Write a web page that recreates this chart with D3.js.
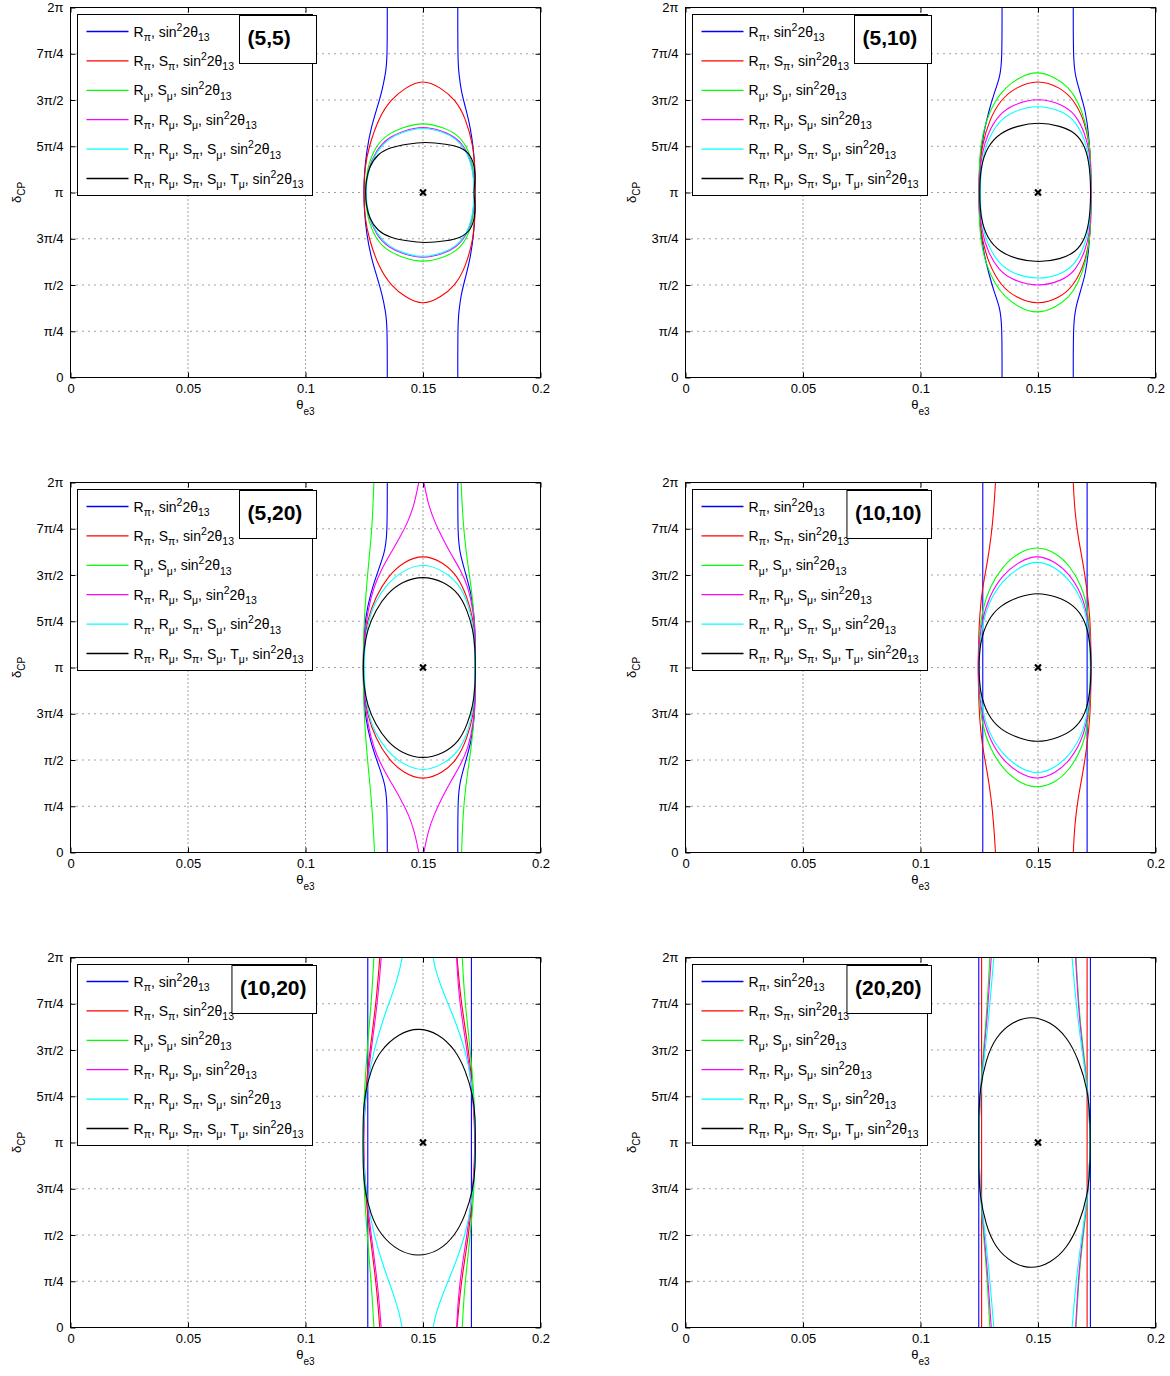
<!DOCTYPE html>
<html>
<head>
<meta charset="utf-8">
<script src="https://cdn.jsdelivr.net/npm/d3@7"></script>
<style>
  body { margin: 0; background: #fff; }
  text { font-family: "Liberation Sans", Arial, Helvetica, sans-serif; }
</style>
</head>
<body>
<svg id="chart" width="1170" height="1376"></svg>
<script>
// ---- axes ----
const thetaTicks = [0, 0.05, 0.1, 0.15, 0.2];
const thetaTickLabels = ["0", "0.05", "0.1", "0.15", "0.2"];
// delta_CP in units of pi
const deltaTicks = [0, 0.25, 0.5, 0.75, 1, 1.25, 1.5, 1.75, 2];
const deltaTickLabels = ["0", "π/4", "π/2", "3π/4", "π", "5π/4", "3π/2", "7π/4", "2π"];

// ---- panels ----
const panelTitles = ["(5,5)", "(5,10)", "(5,20)", "(10,10)", "(10,20)", "(20,20)"];
const bestFit = [0.15, 1];   // [theta_e3, delta_CP / pi]

// ---- legend: observables combined with sin^2 2theta_13 ----
const legendTerms = [
  [["R", "π"]],
  [["R", "π"], ["S", "π"]],
  [["R", "μ"], ["S", "μ"]],
  [["R", "π"], ["R", "μ"], ["S", "μ"]],
  [["R", "π"], ["R", "μ"], ["S", "π"], ["S", "μ"]],
  [["R", "π"], ["R", "μ"], ["S", "π"], ["S", "μ"], ["T", "μ"]]
];

// ---- contours ----
// Each contour is a list of rows [delta/pi, theta_left, theta_right], from 2pi down to 0.
// A row whose two thetas coincide is the top / bottom apex of a closed contour;
// otherwise the two columns are the left and right branches of an open band.
// Series order in each panel follows the legend.
const contours_5_5 = [
  [[2.0,.1348,.1648],[1.712,.1348,.1648],[1.640,.1340,.1653],[1.550,.1326,.1662],[1.459,.1305,.1681],[1.351,.1279,.1702],[1.225,.1260,.1716],[1.099,.1250,.1722],[1.0,.1248,.1723],[0.901,.1250,.1722],[0.775,.1260,.1716],[0.649,.1279,.1702],[0.541,.1305,.1681],[0.450,.1326,.1662],[0.360,.1340,.1653],[0.288,.1348,.1648],[0.0,.1348,.1648]],
  [[1.612,.1499,.1499],[1.568,.1426,.1575],[1.501,.1362,.1638],[1.405,.1312,.1681],[1.250,.1270,.1714],[1.135,.1252,.1721],[1.0,.1248,.1723],[0.865,.1252,.1721],[0.750,.1270,.1714],[0.595,.1312,.1681],[0.499,.1362,.1638],[0.432,.1426,.1575],[0.390,.1499,.1499]],
  [[1.381,.1499,.1499],[1.351,.1411,.1589],[1.315,.1348,.1645],[1.250,.1298,.1688],[1.135,.1262,.1716],[1.0,.1251,.1722],[0.865,.1262,.1716],[0.750,.1298,.1688],[0.685,.1348,.1645],[0.649,.1411,.1589],[0.619,.1499,.1499]],
  [[1.360,.1499,.1499],[1.333,.1415,.1585],[1.297,.1352,.1642],[1.232,.1302,.1686],[1.125,.1265,.1714],[1.0,.1253,.1721],[0.875,.1265,.1714],[0.768,.1302,.1686],[0.703,.1352,.1642],[0.667,.1415,.1585],[0.642,.1499,.1499]],
  [[1.355,.1499,.1499],[1.328,.1416,.1584],[1.292,.1354,.1641],[1.228,.1304,.1685],[1.122,.1266,.1713],[1.0,.1254,.1720],[0.878,.1266,.1713],[0.772,.1304,.1685],[0.708,.1354,.1641],[0.672,.1416,.1584],[0.646,.1499,.1499]],
  [[1.274,.1505,.1505],[1.262,.1433,.1603],[1.245,.1362,.1660],[1.207,.1305,.1702],[1.135,.1270,.1721],[1.063,.1258,.1722],[1.0,.1255,.1715],[0.937,.1258,.1722],[0.865,.1270,.1721],[0.793,.1305,.1702],[0.755,.1362,.1660],[0.738,.1433,.1603],[0.726,.1505,.1505]]
];

const contours_5_10 = [
  [[2.0,.1347,.1650],[1.712,.1347,.1650],[1.622,.1338,.1660],[1.532,.1312,.1681],[1.441,.1291,.1702],[1.315,.1267,.1716],[1.171,.1251,.1723],[1.0,.1248,.1726],[0.829,.1251,.1723],[0.685,.1267,.1716],[0.559,.1291,.1702],[0.468,.1312,.1681],[0.378,.1338,.1660],[0.288,.1347,.1650],[0.0,.1347,.1650]],
  [[1.612,.1499,.1499],[1.568,.1404,.1596],[1.501,.1340,.1653],[1.387,.1291,.1698],[1.250,.1261,.1721],[1.135,.1251,.1725],[1.0,.1248,.1726],[0.865,.1251,.1725],[0.750,.1261,.1721],[0.613,.1291,.1698],[0.499,.1340,.1653],[0.432,.1404,.1596],[0.390,.1499,.1499]],
  [[1.659,.1494,.1494],[1.622,.1419,.1575],[1.568,.1362,.1631],[1.501,.1319,.1667],[1.387,.1277,.1702],[1.250,.1255,.1721],[1.135,.1250,.1725],[1.0,.1248,.1726],[0.865,.1250,.1725],[0.750,.1255,.1721],[0.613,.1277,.1702],[0.499,.1319,.1667],[0.432,.1362,.1631],[0.378,.1419,.1575],[0.343,.1494,.1494]],
  [[1.513,.1499,.1499],[1.477,.1397,.1603],[1.423,.1333,.1660],[1.315,.1284,.1702],[1.207,.1261,.1721],[1.099,.1251,.1725],[1.0,.1250,.1726],[0.901,.1251,.1725],[0.793,.1261,.1721],[0.685,.1284,.1702],[0.577,.1333,.1660],[0.523,.1397,.1603],[0.489,.1499,.1499]],
  [[1.475,.1499,.1499],[1.441,.1397,.1603],[1.387,.1333,.1660],[1.279,.1284,.1702],[1.171,.1261,.1721],[1.0,.1251,.1725],[0.829,.1261,.1721],[0.721,.1284,.1702],[0.613,.1333,.1660],[0.559,.1397,.1603],[0.527,.1499,.1499]],
  [[1.381,.1501,.1501],[1.360,.1411,.1596],[1.324,.1340,.1660],[1.250,.1284,.1702],[1.135,.1255,.1721],[1.0,.1251,.1725],[0.865,.1255,.1721],[0.750,.1284,.1702],[0.676,.1340,.1660],[0.640,.1411,.1596],[0.620,.1501,.1501]]
];

const contours_5_20 = [
  [[2.0,.1348,.1648],[1.708,.1348,.1648],[1.617,.1336,.1657],[1.509,.1305,.1681],[1.401,.1277,.1705],[1.274,.1255,.1719],[1.130,.1247,.1723],[1.0,.1245,.1723],[0.870,.1247,.1723],[0.726,.1255,.1719],[0.599,.1277,.1705],[0.491,.1305,.1681],[0.383,.1336,.1657],[0.292,.1348,.1648],[0.0,.1348,.1648]],
  [[1.611,.1499,.1499],[1.572,.1418,.1582],[1.500,.1355,.1645],[1.383,.1298,.1688],[1.251,.1262,.1716],[1.130,.1248,.1722],[1.0,.1245,.1723],[0.870,.1248,.1722],[0.749,.1262,.1716],[0.617,.1298,.1688],[0.500,.1355,.1645],[0.428,.1418,.1582],[0.389,.1499,.1499]],
  [[2.0,.1291,.1662],[1.762,.1284,.1671],[1.581,.1270,.1688],[1.401,.1257,.1709],[1.220,.1248,.1721],[1.0,.1245,.1723],[0.780,.1248,.1721],[0.599,.1257,.1709],[0.419,.1270,.1688],[0.238,.1284,.1671],[0.0,.1294,.1664]],
  [[2.0,.1482,.1504],[1.888,.1464,.1521],[1.798,.1440,.1546],[1.708,.1404,.1579],[1.617,.1362,.1617],[1.527,.1322,.1660],[1.437,.1291,.1692],[1.310,.1265,.1714],[1.166,.1251,.1722],[1.0,.1245,.1723],[0.834,.1251,.1722],[0.690,.1265,.1714],[0.563,.1291,.1692],[0.473,.1322,.1660],[0.383,.1362,.1617],[0.292,.1404,.1579],[0.202,.1440,.1546],[0.112,.1464,.1521],[0.0,.1482,.1504]],
  [[1.563,.1499,.1499],[1.527,.1418,.1582],[1.455,.1348,.1653],[1.347,.1291,.1692],[1.220,.1260,.1716],[1.0,.1245,.1723],[0.780,.1260,.1716],[0.653,.1291,.1692],[0.545,.1348,.1653],[0.473,.1418,.1582],[0.437,.1499,.1499]],
  [[1.497,.1499,.1499],[1.464,.1411,.1589],[1.401,.1348,.1653],[1.310,.1298,.1688],[1.202,.1262,.1714],[1.094,.1248,.1722],[1.0,.1245,.1723],[0.906,.1248,.1722],[0.798,.1262,.1714],[0.690,.1298,.1688],[0.599,.1348,.1653],[0.536,.1411,.1589],[0.503,.1499,.1499]]
];

const contours_10_10 = [
  [[2.0,.1265,.1709],[1.0,.1265,.1709],[0.0,.1265,.1709]],
  [[2.0,.1319,.1650],[1.852,.1312,.1656],[1.708,.1301,.1670],[1.563,.1284,.1692],[1.419,.1262,.1709],[1.274,.1251,.1721],[1.130,.1247,.1725],[1.0,.1245,.1726],[0.870,.1247,.1725],[0.726,.1251,.1721],[0.581,.1262,.1709],[0.437,.1284,.1692],[0.292,.1301,.1670],[0.148,.1312,.1656],[0.0,.1319,.1650]],
  [[1.660,.1494,.1494],[1.617,.1411,.1582],[1.545,.1348,.1638],[1.437,.1295,.1688],[1.310,.1262,.1712],[1.166,.1250,.1723],[1.0,.1245,.1726],[0.834,.1250,.1723],[0.690,.1262,.1712],[0.563,.1295,.1688],[0.455,.1348,.1638],[0.383,.1411,.1582],[0.342,.1494,.1494]],
  [[1.611,.1494,.1494],[1.572,.1419,.1575],[1.500,.1348,.1638],[1.383,.1291,.1692],[1.238,.1258,.1716],[1.094,.1248,.1725],[1.0,.1245,.1726],[0.906,.1248,.1725],[0.762,.1258,.1716],[0.617,.1291,.1692],[0.500,.1348,.1638],[0.428,.1419,.1575],[0.390,.1494,.1494]],
  [[1.581,.1494,.1494],[1.542,.1419,.1575],[1.469,.1348,.1638],[1.356,.1291,.1692],[1.211,.1258,.1716],[1.0,.1247,.1726],[0.789,.1258,.1716],[0.644,.1291,.1692],[0.531,.1348,.1638],[0.458,.1419,.1575],[0.419,.1494,.1494]],
  [[1.407,.1496,.1496],[1.383,.1419,.1582],[1.338,.1340,.1653],[1.256,.1284,.1702],[1.130,.1252,.1723],[1.0,.1248,.1726],[0.870,.1252,.1723],[0.744,.1284,.1702],[0.662,.1340,.1653],[0.617,.1419,.1582],[0.593,.1496,.1496]]
];

const contours_10_20 = [
  [[2.0,.1265,.1706],[1.0,.1265,.1706],[0.0,.1265,.1706]],
  [[2.0,.1316,.1645],[1.769,.1302,.1660],[1.499,.1274,.1695],[1.229,.1251,.1716],[1.0,.1245,.1723],[0.771,.1251,.1716],[0.501,.1274,.1695],[0.231,.1302,.1660],[0.0,.1316,.1645]],
  [[2.0,.1291,.1667],[1.769,.1281,.1677],[1.499,.1262,.1702],[1.229,.1248,.1719],[1.0,.1245,.1723],[0.771,.1248,.1719],[0.501,.1262,.1702],[0.231,.1281,.1677],[0.0,.1291,.1667]],
  [[2.0,.1322,.1643],[1.769,.1308,.1653],[1.499,.1279,.1688],[1.229,.1254,.1714],[1.0,.1245,.1723],[0.771,.1254,.1714],[0.501,.1279,.1688],[0.231,.1308,.1653],[0.0,.1322,.1643]],
  [[2.0,.1411,.1543],[1.932,.1401,.1553],[1.823,.1376,.1582],[1.679,.1333,.1631],[1.499,.1291,.1681],[1.319,.1262,.1709],[1.139,.1248,.1721],[1.0,.1245,.1723],[0.861,.1248,.1721],[0.681,.1262,.1709],[0.501,.1291,.1681],[0.321,.1333,.1631],[0.177,.1376,.1582],[0.068,.1401,.1553],[0.0,.1411,.1543]],
  [[1.623,.1479,.1479],[1.589,.1397,.1567],[1.501,.1319,.1638],[1.391,.1277,.1681],[1.250,.1251,.1714],[1.139,.1245,.1722],[1.0,.1245,.1723],[0.861,.1245,.1722],[0.750,.1251,.1714],[0.609,.1277,.1681],[0.499,.1319,.1638],[0.411,.1397,.1567],[0.382,.1479,.1479]]
];

const contours_20_20 = [
  [[2.0,.1248,.1723],[1.0,.1248,.1723],[0.0,.1248,.1723]],
  [[2.0,.1260,.1709],[1.0,.1260,.1709],[0.0,.1260,.1709]],
  [[2.0,.1295,.1662],[1.679,.1281,.1676],[1.409,.1262,.1702],[1.229,.1252,.1716],[1.0,.1248,.1723],[0.771,.1252,.1716],[0.591,.1262,.1702],[0.321,.1281,.1676],[0.0,.1295,.1662]],
  [[2.0,.1301,.1660],[1.679,.1284,.1674],[1.409,.1265,.1699],[1.229,.1252,.1716],[1.0,.1248,.1723],[0.771,.1252,.1716],[0.591,.1265,.1699],[0.321,.1284,.1674],[0.0,.1301,.1660]],
  [[2.0,.1312,.1645],[1.679,.1291,.1667],[1.409,.1267,.1698],[1.229,.1252,.1716],[1.0,.1248,.1723],[0.771,.1252,.1716],[0.591,.1267,.1698],[0.321,.1291,.1667],[0.0,.1312,.1645]],
  [[1.686,.1471,.1471],[1.652,.1390,.1553],[1.571,.1319,.1624],[1.445,.1277,.1674],[1.283,.1252,.1712],[1.139,.1248,.1721],[1.0,.1248,.1723],[0.861,.1248,.1721],[0.717,.1252,.1712],[0.555,.1277,.1674],[0.429,.1319,.1624],[0.348,.1390,.1553],[0.314,.1471,.1471]]
];

const panelContours = [contours_5_5, contours_5_10, contours_5_20, contours_10_10, contours_10_20, contours_20_20];

// ---- drawing ----
const seriesColors = ["#0000ff", "#ff0000", "#00ff00", "#ff00ff", "#00ffff", "#000000"];
const svg = d3.select("#chart");
const W = 470, H = 370;
const colLeft = [70, 685];
const rowTop = [7, 482, 957];

const x = d3.scaleLinear().domain([0, 0.2]).range([0, W]);
const y = d3.scaleLinear().domain([0, 2]).range([H, 0]);

// smooth spline through the sampled contour rows
const openLine = d3.line().x(d => x(d[0])).y(d => y(d[1])).curve(d3.curveBasis);
const closedLine = d3.line().x(d => x(d[0])).y(d => y(d[1])).curve(d3.curveBasisClosed);

function contourPaths(rows) {
  const first = rows[0], last = rows[rows.length - 1];
  if (first[1] === first[2] && last[1] === last[2]) {
    const mid = rows.slice(1, -1);
    const pts = [[first[1], first[0]]]
      .concat(mid.map(r => [r[2], r[0]]))
      .concat([[last[1], last[0]]])
      .concat(mid.slice().reverse().map(r => [r[1], r[0]]));
    return [closedLine(pts)];
  }
  return [openLine(rows.map(r => [r[1], r[0]])), openLine(rows.map(r => [r[2], r[0]]))];
}

function writeLegendLabel(textSel, terms) {
  const plain = (t, dy) => textSel.append("tspan").attr("dy", dy || 0).attr("font-size", 14).text(t);
  const small = (t, dy) => textSel.append("tspan").attr("dy", dy).attr("font-size", 10.5).text(t);
  terms.forEach(([base, sub]) => {
    plain(base);
    small(sub, 4.5);
    plain(", ", -4.5);
  });
  plain("sin");
  small("2", -6);
  plain("2θ", 6);
  small("13", 4.5);
}

panelContours.forEach((curves, i) => {
  const col = i % 2, row = Math.floor(i / 2);
  const g = svg.append("g").attr("transform", `translate(${colLeft[col] + 0.5},${rowTop[row] + 0.5})`);

  // dotted grid
  const grid = g.append("g");
  grid.selectAll("line.gx").data(thetaTicks.slice(1, -1)).join("line")
    .attr("x1", d => x(d)).attr("x2", d => x(d)).attr("y1", 0).attr("y2", H)
    .attr("stroke", "#444").attr("stroke-width", 1).attr("stroke-dasharray", "1,3");
  grid.selectAll("line.gy").data(deltaTicks.slice(1, -1)).join("line")
    .attr("x1", 0).attr("x2", W).attr("y1", d => y(d)).attr("y2", d => y(d))
    .attr("stroke", "#444").attr("stroke-width", 1).attr("stroke-dasharray", "1,5");

  // axes with inward ticks on all four sides
  const ax = (gen, tr) => {
    const a = g.append("g").attr("transform", tr).call(gen);
    a.select(".domain").remove();
    a.selectAll("line").attr("stroke", "#000");
    a.selectAll("text").attr("font-size", 13).attr("font-family", "Liberation Sans, Arial, sans-serif").attr("fill", "#000");
    return a;
  };
  ax(d3.axisBottom(x).tickValues(thetaTicks).tickFormat((d, k) => thetaTickLabels[k]).tickSizeInner(-5).tickSizeOuter(0).tickPadding(6), `translate(0,${H})`);
  ax(d3.axisTop(x).tickValues(thetaTicks).tickFormat("").tickSizeInner(-5).tickSizeOuter(0), "translate(0,0)");
  ax(d3.axisLeft(y).tickValues(deltaTicks).tickFormat((d, k) => deltaTickLabels[k]).tickSizeInner(-5).tickSizeOuter(0).tickPadding(7), "translate(0,0)");
  ax(d3.axisRight(y).tickValues(deltaTicks).tickFormat("").tickSizeInner(-5).tickSizeOuter(0), `translate(${W},0)`);

  // contours
  const clipId = `clip${i}`;
  g.append("clipPath").attr("id", clipId).append("rect").attr("x", 0).attr("y", 0).attr("width", W).attr("height", H);
  const cg = g.append("g").attr("clip-path", `url(#${clipId})`);
  curves.forEach((rows, s) => {
    contourPaths(rows).forEach(dstr => {
      cg.append("path").attr("d", dstr).attr("fill", "none")
        .attr("stroke", seriesColors[s]).attr("stroke-width", 1.1);
    });
  });

  // best-fit point
  g.append("path")
    .attr("transform", `translate(${x(bestFit[0])},${y(bestFit[1])})`)
    .attr("d", "M-3,-3L3,3M-3,3L3,-3")
    .attr("stroke", "#000").attr("stroke-width", 2.2);

  // frame
  g.append("rect").attr("x", 0).attr("y", 0).attr("width", W).attr("height", H)
    .attr("fill", "none").attr("stroke", "#000").attr("stroke-width", 1);

  // axis labels
  const xl = g.append("text").attr("x", W / 2).attr("y", H + 31).attr("text-anchor", "middle").attr("font-size", 13);
  xl.append("tspan").text("θ");
  xl.append("tspan").attr("dy", 6).attr("font-size", 10).text("e3");
  const yl = g.append("text").attr("transform", `translate(${-50},${H / 2}) rotate(-90)`).attr("text-anchor", "middle").attr("font-size", 13);
  yl.append("tspan").text("δ");
  yl.append("tspan").attr("dy", 4).attr("font-size", 10).text("CP");

  // legend
  const lg = g.append("g").attr("transform", "translate(7,7)");
  lg.append("rect").attr("width", 235).attr("height", 181).attr("fill", "#fff").attr("stroke", "#000").attr("stroke-width", 1);
  legendTerms.forEach((terms, k) => {
    const ly = 17 + k * 29.4;
    lg.append("line").attr("x1", 9).attr("x2", 51).attr("y1", ly).attr("y2", ly)
      .attr("stroke", seriesColors[k]).attr("stroke-width", 1.3);
    const t = lg.append("text").attr("x", 56).attr("y", ly + 5).attr("fill", "#000");
    writeLegendLabel(t, terms);
  });

  // panel title box
  const tb = g.append("g");
  const tt = tb.append("text").attr("font-size", 21).attr("font-weight", "bold").text(panelTitles[i]);
  const tw = tt.node().getComputedTextLength();
  const bw = Math.max(tw + 18, 77), bx = 246 - bw, by = 8, bh = 48;
  tb.insert("rect", "text").attr("x", bx).attr("y", by).attr("width", bw).attr("height", bh)
    .attr("fill", "#fff").attr("stroke", "#000").attr("stroke-width", 1);
  tt.attr("x", bx + 8).attr("y", by + 29);
});
</script>
</body>
</html>
